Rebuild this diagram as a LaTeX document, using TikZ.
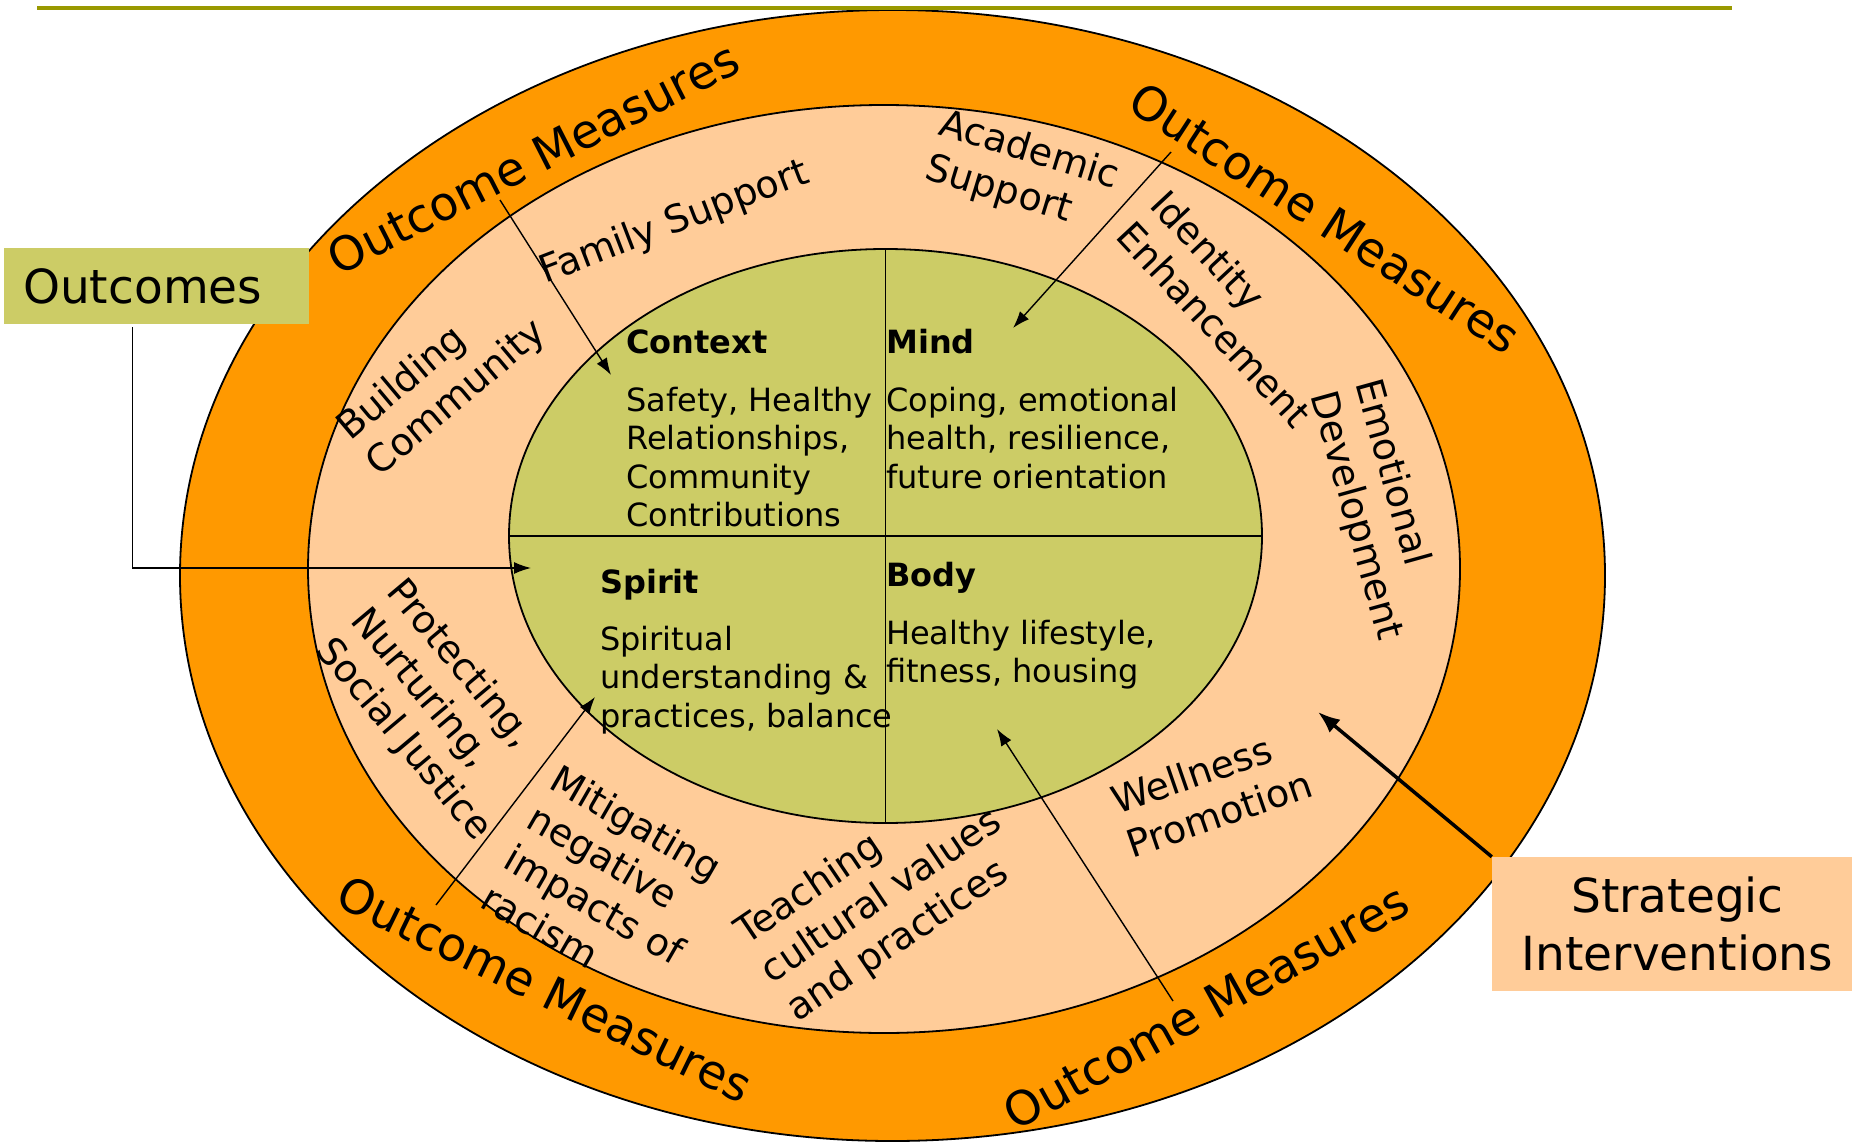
\documentclass[tikz,border=0pt]{standalone}
\usepackage{fontspec}
\setmainfont{DejaVu Sans}
\usetikzlibrary{arrows.meta,shapes.geometric}
\definecolor{omorange}{HTML}{FF9900}
\definecolor{ompeach}{HTML}{FFCC99}
\definecolor{omgreen}{HTML}{CCCC66}
\definecolor{omline}{HTML}{999900}
\newcommand{\mlines}[1]{\begin{tabular}[t]{@{}l@{}}#1\end{tabular}}
\begin{document}
\begin{tikzpicture}[x=1pt,y=-1pt,
  ellipsebox/.style={ellipse, draw=black, line width=1.8pt, inner sep=0pt, outer sep=0pt},
  ringtext/.style={font=\fontsize{38}{46}\selectfont, inner sep=0pt, anchor=base west},
  coretext/.style={font=\fontsize{32}{38.4}\selectfont, inner sep=0pt, anchor=base west},
  omtext/.style={font=\fontsize{47}{56}\selectfont, inner sep=0pt},
  thinarrow/.style={line width=1.4pt, -{Latex[length=17pt,width=12pt]}},
  boldarrow/.style={line width=3.5pt, -{Latex[length=22pt,width=17pt]}},
]
\useasboundingbox (0,0) rectangle (1852,1142);

% rings
\node[ellipsebox, fill=omorange, minimum width=1425pt, minimum height=1131pt] (outer) at (892.5,575.5) {};
\node[ellipsebox, fill=ompeach, minimum width=1152pt, minimum height=928pt] (middle) at (884,569) {};
\node[ellipsebox, fill=omgreen, minimum width=753pt, minimum height=574pt] (inner) at (885.5,536) {};
\draw[line width=1.8pt] (inner.north) -- (inner.south);
\draw[line width=1.8pt] (inner.west) -- (inner.east);

% top rule
\draw[omline, line width=3.6pt] (37,8) -- (1732,8);

% outcome measures
\node[omtext, rotate=27]  (omTL) at (533,158)  {Outcome Measures};
\node[omtext, rotate=-33] (omTR) at (1325,218) {Outcome Measures};
\node[omtext, rotate=-26] (omBL) at (545,989)  {Outcome Measures};
\node[omtext, rotate=29]  (omBR) at (1206,1007) {Outcome Measures};

% ring texts
\node[ringtext, rotate=40]    (building)  at (350,442)  {\mlines{Building\\Community}};
\node[ringtext, rotate=21]    (family)    at (545,284)  {\mlines{Family Support}};
\node[ringtext, rotate=-17]   (academic)  at (937,134)  {\mlines{Academic\\Support}};
\node[ringtext, rotate=-47]   (identity)  at (1148,206) {\mlines{Identity\\Enhancement}};
\node[ringtext, rotate=-74.5] (emotional) at (1355,383) {\mlines{Emotional\\Development}};
\node[ringtext, rotate=19]    (wellness)  at (1117,815) {\mlines{Wellness\\Promotion}};
\node[ringtext, rotate=34]    (teaching)  at (746,946)  {\mlines{Teaching\\cultural values\\and practices}};
\node[ringtext, rotate=-30]   (mitigating) at (547,787) {\mlines{Mitigating\\negative\\impacts of\\racism}};
\node[ringtext, rotate=-50]   (protecting) at (385,592) {\mlines{Protecting,\\Nurturing,\\Social Justice}};

% core texts
\node[coretext] (context) at (626,353) {\mlines{\textbf{Context}\\[20pt]Safety, Healthy\\Relationships,\\Community\\Contributions}};
\node[coretext] (mind) at (886,353) {\mlines{\textbf{Mind}\\[20pt]Coping, emotional\\health, resilience,\\future orientation}};
\node[coretext] (spirit) at (600,593) {\mlines{\textbf{Spirit}\\[19pt]Spiritual\\understanding \&\\practices, balance}};
\node[coretext] (body) at (886,586) {\mlines{\textbf{Body}\\[19.6pt]Healthy lifestyle,\\fitness, housing}};

% side boxes
\node[fill=omgreen, anchor=north west, minimum height=76pt, text width=267pt, inner xsep=19pt, inner ysep=0pt, align=left, font=\fontsize{47}{56}\selectfont] (outcomes) at (4,248) {Outcomes};
\node[fill=ompeach, minimum width=371pt, minimum height=133.5pt, align=center, inner sep=0pt, font=\fontsize{47}{58}\selectfont] (strat) at (1677.5,923.75) {Strategic\\Interventions};

% connectors
\coordinate (oc-tip) at (531,568);
\coordinate (tl-start) at (500,200);
\coordinate (tl-tip) at (611,375);
\coordinate (tr-start) at (1171,152);
\coordinate (tr-tip) at (1013,328);
\coordinate (bl-start) at (436,905);
\coordinate (bl-tip) at (595,697);
\coordinate (br-start) at (1173,1001);
\coordinate (br-tip) at (997,729);
\coordinate (si-tip) at (1318,712);

\draw[thinarrow] ([xshift=-24.5pt,yshift=-3pt]outcomes.south) |- (oc-tip);
\draw[thinarrow] (tl-start) -- (tl-tip);
\draw[thinarrow] (tr-start) -- (tr-tip);
\draw[thinarrow] (bl-start) -- (bl-tip);
\draw[thinarrow] (br-start) -- (br-tip);
\draw[boldarrow] (strat.north west) -- (si-tip);
\end{tikzpicture}
\end{document}
